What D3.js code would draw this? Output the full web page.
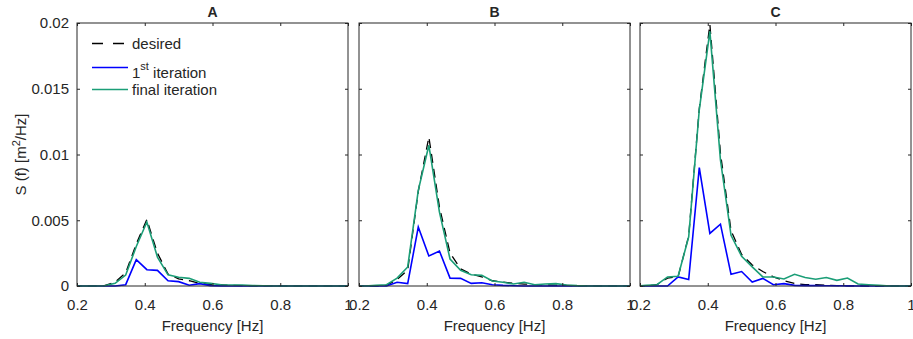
<!DOCTYPE html>
<html>
<head>
<meta charset="utf-8">
<script src="https://cdn.jsdelivr.net/npm/d3@7"></script>
<style>
    body { margin: 0; background: #fff; }
    text { font-family: "Liberation Sans", Arial, sans-serif; fill: #262626; }
</style>
</head>
<body>
<script>
(function(){
    // frequency bins [Hz]
    var freq = [0.1875, 0.21875, 0.25, 0.28125, 0.3125, 0.34375, 0.375, 0.40625, 0.4375,
        0.46875, 0.5, 0.53125, 0.5625, 0.59375, 0.625, 0.65625, 0.6875, 0.71875, 0.75,
        0.78125, 0.8125, 0.84375, 0.875, 0.90625, 0.9375, 0.96875, 1];

    var panelNames = ["A", "B", "C"];

    var desiredA = [0, 0, 0, 0.00003, 0.0003, 0.001, 0.0032, 0.00505, 0.0025, 0.0009, 0.00055,
        0.0004, 0.0002, 0.00012, 0.00008, 0.00005, 0.00003, 0.00002, 0.00001, 0.00001, 0, 0, 0, 0, 0, 0, 0];
    var firstA = [0, 0, 0, 0, 0, 0.0001, 0.002, 0.00124, 0.00119, 0.0004, 0.00033,
        0.00006, 0.00018, 0.00003, 0.00001, 0, 0, 0, 0, 0, 0, 0, 0, 0, 0, 0, 0];
    var finalA = [0, 0, 0, 0.00002, 0.0002, 0.00083, 0.003, 0.00487, 0.0022, 0.00085, 0.00066,
        0.00058, 0.00028, 0.0002, 0.0001, 0.00008, 0.00008, 0.00003, 0.00002, 0, 0, 0, 0, 0, 0, 0, 0];

    var desiredB = [0, 0, 0, 0.00005, 0.0005, 0.0012, 0.0072, 0.01133, 0.006, 0.0025, 0.0013,
        0.0009, 0.0007, 0.0004, 0.0003, 0.0002, 0.00015, 0.0001, 0.00008, 0.00006, 0.00004, 0.00002, 0.00001, 0, 0, 0, 0];
    var firstB = [0, 0, 0, 0, 0.00028, 0.00018, 0.00448, 0.00228, 0.00266, 0.0006, 0.00058,
        0.0002, 0.00025, 0.0001, 0.00005, 0.00002, 0, 0, 0, 0, 0, 0, 0, 0, 0, 0, 0];
    var finalB = [0, 0, 0.00005, 0.0001, 0.0006, 0.00145, 0.00727, 0.0107, 0.00562, 0.00205, 0.00119,
        0.00086, 0.00081, 0.00038, 0.00028, 0.00015, 0.00028, 0.0001, 0.00015, 0.00018, 0.00008, 0.00003, 0, 0, 0, 0, 0];

    var desiredC = [0, 0, 0.0001, 0.0006, 0.0007, 0.0038, 0.0135, 0.0199, 0.0101, 0.0042, 0.0024,
        0.0016, 0.0011, 0.0007, 0.0004, 0.0002, 0.0001, 0.0001, 0.00005, 0.00003, 0.00002, 0.00001, 0, 0, 0, 0, 0];
    var firstC = [0, 0, 0, 0, 0.00069, 0.0005, 0.009, 0.004, 0.0047, 0.00089, 0.0011,
        0.0003, 0.00058, 0.0001, 0.00018, 0.00005, 0.00003, 0.00003, 0.00002, 0.00002, 0.00001, 0, 0, 0, 0, 0, 0];
    var finalC = [0, 0.00005, 0.0001, 0.00069, 0.00074, 0.00374, 0.0134, 0.01936, 0.00958, 0.00386, 0.00226,
        0.00145, 0.00069, 0.00069, 0.00053, 0.00089, 0.00064, 0.00051, 0.00064, 0.00043, 0.00061, 0.00015, 0.0001, 0.00005, 0, 0, 0];

    var xTicks = [0.2, 0.4, 0.6, 0.8, 1];
    var yTicks = [0, 0.005, 0.01, 0.015, 0.02];

    var seriesNames = ["desired", "1st iteration", "final iteration"];
    var seriesColors = ["#000000", "#0000ff", "#1b9e77"];

    var panels = [
        [desiredA, firstA, finalA],
        [desiredB, firstB, finalB],
        [desiredC, firstC, finalC]
    ];

    var width = 913,
        height = 339,
        panelLefts = [77, 359, 640],
        panelWidth = 271,
        top = 23,
        bottom = 286,
        fontSize = "15px";

    var svg = d3.select("body")
        .append("svg")
        .attr("width", width)
        .attr("height", height);

    var yScale = d3.scaleLinear()
        .domain([0, 0.02])
        .range([bottom, top]);

    panels.forEach(function(series, p){
        drawPanel(series, p);
    });

    drawLegend();

    // y label
    var yLabel = svg.append("text")
        .attr("transform", "translate(26," + ((top + bottom) / 2) + ") rotate(-90)")
        .attr("text-anchor", "middle")
        .style("font-size", fontSize);
    yLabel.append("tspan").text("S (f) [m");
    yLabel.append("tspan").attr("dy", -6).style("font-size", "11px").text("2");
    yLabel.append("tspan").attr("dy", 6).text("/Hz]");

    function drawPanel(series, p){
        var left = panelLefts[p];
        var xScale = d3.scaleLinear()
            .domain([0.2, 1])
            .range([left, left + panelWidth]);

        var g = svg.append("g").attr("class", "panel");

        g.append("clipPath")
            .attr("id", "clip" + p)
            .append("rect")
            .attr("x", left)
            .attr("y", top - 1)
            .attr("width", panelWidth)
            .attr("height", bottom - top + 2);

        var line = d3.line()
            .x(function(d, i){ return xScale(freq[i]); })
            .y(function(d){ return yScale(d); });

        series.forEach(function(values, s){
            g.append("path")
                .datum(values)
                .attr("clip-path", "url(#clip" + p + ")")
                .attr("fill", "none")
                .attr("stroke", seriesColors[s])
                .attr("stroke-width", s === 0 ? 1.3 : 1.6)
                .attr("stroke-dasharray", s === 0 ? "9,6" : null)
                .attr("d", line);
        });

        // axes, ticks inside on all four sides
        var xb = g.append("g")
            .attr("transform", "translate(0," + bottom + ")")
            .call(d3.axisBottom(xScale).tickValues(xTicks).tickFormat(d3.format("~g"))
                .tickSizeInner(-3).tickSizeOuter(0).tickPadding(13));
        var xt = g.append("g")
            .attr("transform", "translate(0," + top + ")")
            .call(d3.axisTop(xScale).tickValues(xTicks).tickFormat("")
                .tickSizeInner(-3).tickSizeOuter(0));
        var yl = g.append("g")
            .attr("transform", "translate(" + left + ",0)")
            .call(d3.axisLeft(yScale).tickValues(yTicks).tickFormat(p === 0 ? d3.format("~g") : "")
                .tickSizeInner(-3).tickSizeOuter(0).tickPadding(8));
        var yr = g.append("g")
            .attr("transform", "translate(" + (left + panelWidth) + ",0)")
            .call(d3.axisRight(yScale).tickValues(yTicks).tickFormat("")
                .tickSizeInner(-3).tickSizeOuter(0));

        [xb, xt, yl, yr].forEach(function(a){
            a.select(".domain").remove();
            a.selectAll("line").attr("stroke", "#262626");
            a.selectAll("text")
                .style("font-family", "'Liberation Sans', Arial, sans-serif")
                .style("font-size", fontSize)
                .attr("fill", "#262626");
        });

        g.append("rect")
            .attr("x", left)
            .attr("y", top)
            .attr("width", panelWidth)
            .attr("height", bottom - top)
            .attr("fill", "none")
            .attr("stroke", "#262626")
            .attr("stroke-width", 1);

        g.append("text")
            .attr("x", left + panelWidth / 2)
            .attr("y", 17)
            .attr("text-anchor", "middle")
            .style("font-size", "14px")
            .style("font-weight", "bold")
            .attr("fill", "#000")
            .text(panelNames[p]);

        g.append("text")
            .attr("x", left + panelWidth / 2)
            .attr("y", 331)
            .attr("text-anchor", "middle")
            .style("font-size", fontSize)
            .text("Frequency [Hz]");
    }

    function drawLegend(){
        var rows = [43.5, 67.5, 89.5];
        var leg = svg.append("g").attr("class", "legend");

        seriesNames.forEach(function(name, s){
            leg.append("line")
                .attr("x1", 92)
                .attr("x2", 128)
                .attr("y1", rows[s])
                .attr("y2", rows[s])
                .attr("stroke", seriesColors[s])
                .attr("stroke-width", s === 0 ? 1.3 : 1.6)
                .attr("stroke-dasharray", s === 0 ? "11,10" : null);

            var t = leg.append("text")
                .attr("x", 132)
                .attr("y", (s === 1 ? rows[s] + 10 : rows[s] + 5.5))
                .style("font-size", fontSize)
                .attr("fill", "#000");
            if (s === 1){
                t.append("tspan").text("1");
                t.append("tspan").attr("dy", -8).style("font-size", "11px").text("st");
                t.append("tspan").attr("dy", 8).text(" iteration");
            } else {
                t.text(name);
            }
        });
    }
})();
</script>
</body>
</html>
